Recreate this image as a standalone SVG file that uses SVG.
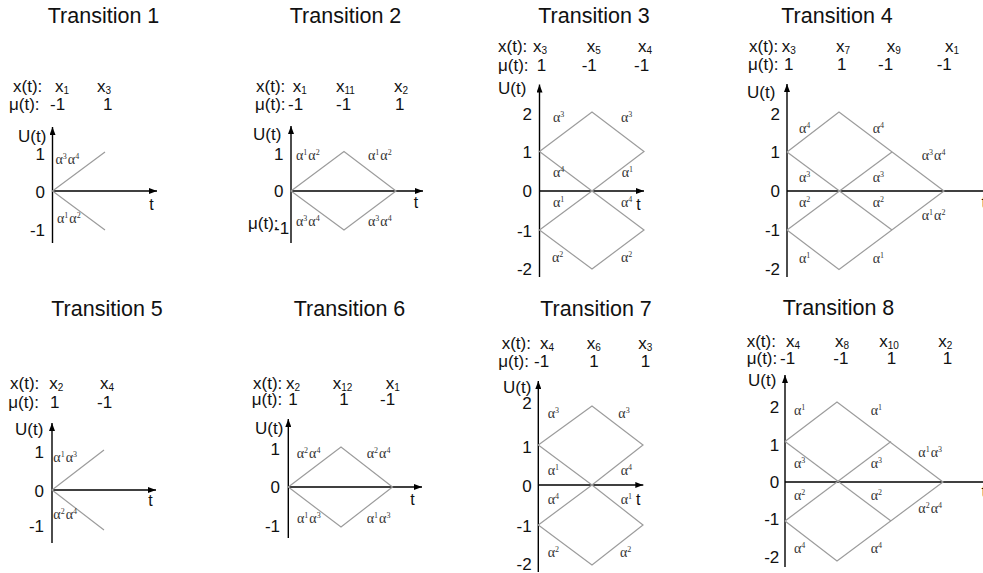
<svg xmlns="http://www.w3.org/2000/svg" width="983" height="573" viewBox="0 0 983 573">
<defs>
<marker id="ar" viewBox="0 0 8 6" refX="8" refY="3" markerWidth="8" markerHeight="6" markerUnits="userSpaceOnUse" orient="auto" preserveAspectRatio="none"><path d="M0,0 L8,3 L0,6 z" fill="#000"/></marker>
<style>
text{font-family:"Liberation Sans",Arial,sans-serif;fill:#111}
.ti{font-size:21.5px;text-anchor:middle}
.h{font-size:17px}
.s{font-size:10px}
.tk{font-size:17px;text-anchor:end}
.u{font-size:17px}
.t{font-size:16px;text-anchor:middle}
.al{font-family:"Liberation Serif","Times New Roman",serif;font-size:14px;fill:#333}
.sp{font-size:8px}
.ax2{stroke:#000;stroke-width:1.4;fill:none;marker-end:url(#ar)}
.g{stroke:#9c9c9c;stroke-width:1.2;fill:none}
</style>
</defs>
<rect width="983" height="573" fill="#fff"/>

<g id="p1">
<text class="ti" x="103.5" y="22.7">Transition 1</text>
<text class="h" x="13" y="91.5">x(t):</text>
<text class="h" x="55" y="91.5">x<tspan class="s" dy="2">1</tspan></text>
<text class="h" x="97" y="91.5">x<tspan class="s" dy="2">3</tspan></text>
<text class="h" x="9" y="110">μ(t):</text>
<text class="h" x="50" y="110">-1</text>
<text class="h" x="103" y="110">1</text>
<text class="u" x="18" y="141.5">U(t)</text>
<path class="ax2" d="M52.5,243 V127"/>
<path class="ax2" d="M52.5,191 H157"/>
<path class="g" d="M105,152 L52.5,191 L105,230"/>
<text class="tk" x="45" y="159.5">1</text>
<text class="tk" x="45" y="197.5">0</text>
<text class="tk" x="45" y="236">-1</text>
<text class="t" x="151.5" y="209.5">t</text>
<text class="al" x="55.5" y="164">α<tspan class="sp" dy="-5">3</tspan><tspan dy="5" dx="1">α</tspan><tspan class="sp" dy="-5">4</tspan></text>
<text class="al" x="57" y="223">α<tspan class="sp" dy="-5">1</tspan><tspan dy="5" dx="1">α</tspan><tspan class="sp" dy="-5">2</tspan></text>
</g>

<g id="p2">
<text class="ti" x="345.5" y="22.7">Transition 2</text>
<text class="h" x="256" y="91.5">x(t):</text>
<text class="h" x="292.7" y="91.5">x<tspan class="s" dy="2">1</tspan></text>
<text class="h" x="336" y="91.5">x<tspan class="s" dy="2">11</tspan></text>
<text class="h" x="394" y="91.5">x<tspan class="s" dy="2">2</tspan></text>
<text class="h" x="255" y="110">μ(t):</text>
<text class="h" x="288" y="110">-1</text>
<text class="h" x="336" y="110">-1</text>
<text class="h" x="395" y="110">1</text>
<text class="u" x="253" y="140">U(t)</text>
<path class="ax2" d="M291,243 V126"/>
<path class="ax2" d="M291,191 H423"/>
<path class="g" d="M291,191 L344,151.5 L396,191 L344,230 Z"/>
<text class="tk" x="283.5" y="160">1</text>
<text class="tk" x="283.5" y="197">0</text>
<text class="h" x="248" y="229">μ(t):</text>
<text class="h" x="274" y="234">-1</text>
<text class="t" x="416" y="208">t</text>
<text class="al" x="296" y="160">α<tspan class="sp" dy="-5">1</tspan><tspan dy="5" dx="1">α</tspan><tspan class="sp" dy="-5">2</tspan></text>
<text class="al" x="368" y="160">α<tspan class="sp" dy="-5">1</tspan><tspan dy="5" dx="1">α</tspan><tspan class="sp" dy="-5">2</tspan></text>
<text class="al" x="296" y="226">α<tspan class="sp" dy="-5">3</tspan><tspan dy="5" dx="1">α</tspan><tspan class="sp" dy="-5">4</tspan></text>
<text class="al" x="368" y="226">α<tspan class="sp" dy="-5">3</tspan><tspan dy="5" dx="1">α</tspan><tspan class="sp" dy="-5">4</tspan></text>
</g>

<g id="p3">
<text class="ti" x="594" y="22.7">Transition 3</text>
<text class="h" x="498" y="52.3">x(t):</text>
<text class="h" x="533" y="52.3">x<tspan class="s" dy="2">3</tspan></text>
<text class="h" x="586.7" y="52.3">x<tspan class="s" dy="2">5</tspan></text>
<text class="h" x="638" y="52.3">x<tspan class="s" dy="2">4</tspan></text>
<text class="h" x="498" y="71">μ(t):</text>
<text class="h" x="536.7" y="71">1</text>
<text class="h" x="581.7" y="71">-1</text>
<text class="h" x="634" y="71">-1</text>
<text class="u" x="498" y="93.5">U(t)</text>
<path class="ax2" d="M539.5,277 V84.5"/>
<path class="ax2" d="M539.5,191 H644"/>
<path class="g" d="M539.5,151.5 L592,112 L644,151.5 L592,191 Z"/>
<path class="g" d="M539.5,230 L592,191 L644,230 L592,269 Z"/>
<text class="tk" x="532" y="120">2</text>
<text class="tk" x="532" y="158">1</text>
<text class="tk" x="532" y="197">0</text>
<text class="tk" x="532" y="236.5">-1</text>
<text class="tk" x="532" y="275">-2</text>
<text class="al" x="553" y="121.5">α<tspan class="sp" dy="-5">3</tspan></text>
<text class="al" x="621" y="121.5">α<tspan class="sp" dy="-5">3</tspan></text>
<text class="al" x="553" y="176.5">α<tspan class="sp" dy="-5">4</tspan></text>
<text class="al" x="621.7" y="176.5">α<tspan class="sp" dy="-5">1</tspan></text>
<text class="al" x="553" y="206.5">α<tspan class="sp" dy="-5">1</tspan></text>
<text class="al" x="621" y="206.5">α<tspan class="sp" dy="-5">4</tspan></text>
<text class="t" x="638.5" y="210">t</text>
<text class="al" x="552" y="261.5">α<tspan class="sp" dy="-5">2</tspan></text>
<text class="al" x="621" y="261.5">α<tspan class="sp" dy="-5">2</tspan></text>
</g>

<g id="p4">
<text class="ti" x="837" y="22.7">Transition 4</text>
<text class="h" x="749" y="51.5">x(t):</text>
<text class="h" x="781.7" y="51.5">x<tspan class="s" dy="2">3</tspan></text>
<text class="h" x="836" y="51.5">x<tspan class="s" dy="2">7</tspan></text>
<text class="h" x="886.7" y="51.5">x<tspan class="s" dy="2">9</tspan></text>
<text class="h" x="945" y="51.5">x<tspan class="s" dy="2">1</tspan></text>
<text class="h" x="748" y="70">μ(t):</text>
<text class="h" x="784" y="70">1</text>
<text class="h" x="837" y="70">1</text>
<text class="h" x="878" y="70">-1</text>
<text class="h" x="936.7" y="70">-1</text>
<text class="u" x="747" y="98">U(t)</text>
<path class="ax2" d="M787,277 V84"/>
<path class="ax2" d="M787,191 H995"/>
<path class="g" d="M787,152 L839,112 L944,191 L839,269.5 L787,230"/>
<path class="g" d="M787,152 L892,230"/>
<path class="g" d="M787,230 L892,152"/>
<text class="tk" x="780" y="120">2</text>
<text class="tk" x="780" y="158">1</text>
<text class="tk" x="780" y="197">0</text>
<text class="tk" x="780" y="236">-1</text>
<text class="tk" x="780" y="275">-2</text>
<text class="al" x="799" y="133">α<tspan class="sp" dy="-5">4</tspan></text>
<text class="al" x="872.7" y="133">α<tspan class="sp" dy="-5">4</tspan></text>
<text class="al" x="799" y="181.7">α<tspan class="sp" dy="-5">3</tspan></text>
<text class="al" x="872.7" y="181.7">α<tspan class="sp" dy="-5">3</tspan></text>
<text class="al" x="921.7" y="160">α<tspan class="sp" dy="-5">3</tspan><tspan dy="5" dx="1">α</tspan><tspan class="sp" dy="-5">4</tspan></text>
<text class="al" x="799" y="206.7">α<tspan class="sp" dy="-5">2</tspan></text>
<text class="al" x="872.7" y="206.7">α<tspan class="sp" dy="-5">2</tspan></text>
<text class="al" x="921.7" y="220">α<tspan class="sp" dy="-5">1</tspan><tspan dy="5" dx="1">α</tspan><tspan class="sp" dy="-5">2</tspan></text>
<text class="al" x="799" y="263">α<tspan class="sp" dy="-5">1</tspan></text>
<text class="al" x="872.7" y="263">α<tspan class="sp" dy="-5">1</tspan></text>
<text class="h" x="981.5" y="208">t</text>
</g>

<g id="p5">
<text class="ti" x="107" y="316">Transition 5</text>
<text class="h" x="10" y="389">x(t):</text>
<text class="h" x="49.3" y="389">x<tspan class="s" dy="2">2</tspan></text>
<text class="h" x="100" y="389">x<tspan class="s" dy="2">4</tspan></text>
<text class="h" x="8.3" y="408">μ(t):</text>
<text class="h" x="50" y="408">1</text>
<text class="h" x="97" y="408">-1</text>
<text class="u" x="15" y="435">U(t)</text>
<path class="ax2" d="M52,543 V423"/>
<path class="ax2" d="M52,490 H156"/>
<path class="g" d="M104,450 L52,490 L104,530"/>
<text class="tk" x="44" y="458">1</text>
<text class="tk" x="44" y="496.5">0</text>
<text class="tk" x="44" y="532">-1</text>
<text class="t" x="150.5" y="506">t</text>
<text class="al" x="53.3" y="461.7">α<tspan class="sp" dy="-5">1</tspan><tspan dy="5" dx="1">α</tspan><tspan class="sp" dy="-5">3</tspan></text>
<text class="al" x="53.3" y="519">α<tspan class="sp" dy="-5">2</tspan><tspan dy="5" dx="1">α</tspan><tspan class="sp" dy="-5">4</tspan></text>
</g>

<g id="p6">
<text class="ti" x="349.5" y="316">Transition 6</text>
<text class="h" x="253" y="388.5">x(t):</text>
<text class="h" x="286" y="388.5">x<tspan class="s" dy="2">2</tspan></text>
<text class="h" x="332.7" y="388.5">x<tspan class="s" dy="2">12</tspan></text>
<text class="h" x="385.7" y="388.5">x<tspan class="s" dy="2">1</tspan></text>
<text class="h" x="251.7" y="405">μ(t):</text>
<text class="h" x="288.3" y="405">1</text>
<text class="h" x="339.3" y="405">1</text>
<text class="h" x="380" y="405">-1</text>
<text class="u" x="255" y="433.5">U(t)</text>
<path class="ax2" d="M288.3,538 V419"/>
<path class="ax2" d="M288.3,487 H422"/>
<path class="g" d="M288.3,487 L341,447 L392.5,487 L341,527 Z"/>
<text class="tk" x="280" y="455">1</text>
<text class="tk" x="280" y="493">0</text>
<text class="tk" x="280" y="531.5">-1</text>
<text class="t" x="412.5" y="505">t</text>
<text class="al" x="296.7" y="458">α<tspan class="sp" dy="-5">2</tspan><tspan dy="5" dx="1">α</tspan><tspan class="sp" dy="-5">4</tspan></text>
<text class="al" x="366.7" y="458">α<tspan class="sp" dy="-5">2</tspan><tspan dy="5" dx="1">α</tspan><tspan class="sp" dy="-5">4</tspan></text>
<text class="al" x="297" y="523">α<tspan class="sp" dy="-5">1</tspan><tspan dy="5" dx="1">α</tspan><tspan class="sp" dy="-5">3</tspan></text>
<text class="al" x="366.7" y="523">α<tspan class="sp" dy="-5">1</tspan><tspan dy="5" dx="1">α</tspan><tspan class="sp" dy="-5">3</tspan></text>
</g>

<g id="p7">
<text class="ti" x="596" y="316">Transition 7</text>
<text class="h" x="501.7" y="349">x(t):</text>
<text class="h" x="540" y="349">x<tspan class="s" dy="2">4</tspan></text>
<text class="h" x="586.7" y="349">x<tspan class="s" dy="2">6</tspan></text>
<text class="h" x="638.3" y="349">x<tspan class="s" dy="2">3</tspan></text>
<text class="h" x="498.3" y="367">μ(t):</text>
<text class="h" x="534" y="367">-1</text>
<text class="h" x="589.3" y="367">1</text>
<text class="h" x="640.7" y="367">1</text>
<text class="u" x="503" y="392.5">U(t)</text>
<path class="ax2" d="M538.3,572 V381"/>
<path class="ax2" d="M538.3,485 H643.3"/>
<path class="g" d="M538.3,445 L592,406 L643,445 L592,485 Z"/>
<path class="g" d="M538.3,525 L592,485 L643,525 L592,565 Z"/>
<text class="tk" x="531.7" y="409">2</text>
<text class="tk" x="531.7" y="453">1</text>
<text class="tk" x="531.7" y="491.7">0</text>
<text class="tk" x="531.7" y="531.7">-1</text>
<text class="tk" x="531.7" y="570">-2</text>
<text class="al" x="547.7" y="418">α<tspan class="sp" dy="-5">3</tspan></text>
<text class="al" x="618.3" y="418">α<tspan class="sp" dy="-5">3</tspan></text>
<text class="al" x="547.7" y="475">α<tspan class="sp" dy="-5">1</tspan></text>
<text class="al" x="620.7" y="475">α<tspan class="sp" dy="-5">4</tspan></text>
<text class="al" x="547.7" y="504">α<tspan class="sp" dy="-5">4</tspan></text>
<text class="al" x="620.7" y="504">α<tspan class="sp" dy="-5">1</tspan></text>
<text class="t" x="638.2" y="505">t</text>
<text class="al" x="547.7" y="556.7">α<tspan class="sp" dy="-5">2</tspan></text>
<text class="al" x="620" y="556.7">α<tspan class="sp" dy="-5">2</tspan></text>
</g>

<g id="p8">
<text class="ti" x="838.5" y="315">Transition 8</text>
<text class="h" x="746.7" y="346.5">x(t):</text>
<text class="h" x="786" y="346.5">x<tspan class="s" dy="2">4</tspan></text>
<text class="h" x="835" y="346.5">x<tspan class="s" dy="2">8</tspan></text>
<text class="h" x="879.3" y="346.5">x<tspan class="s" dy="2">10</tspan></text>
<text class="h" x="938.3" y="346.5">x<tspan class="s" dy="2">2</tspan></text>
<text class="h" x="746.7" y="364">μ(t):</text>
<text class="h" x="780" y="364">-1</text>
<text class="h" x="833.3" y="364">-1</text>
<text class="h" x="886.7" y="364">1</text>
<text class="h" x="942.7" y="364">1</text>
<text class="u" x="748" y="386">U(t)</text>
<path class="ax2" d="M785,567 V375"/>
<path class="ax2" d="M785,482 H995"/>
<path class="g" d="M785,441.5 L837,402 L943,482 L837,561 L785,521"/>
<path class="g" d="M785,441.5 L891,521"/>
<path class="g" d="M785,521 L891,441.5"/>
<text class="tk" x="779.3" y="413">2</text>
<text class="tk" x="779.3" y="450.7">1</text>
<text class="tk" x="779.3" y="488.3">0</text>
<text class="tk" x="779.3" y="525">-1</text>
<text class="tk" x="779.3" y="563.3">-2</text>
<text class="al" x="794" y="415">α<tspan class="sp" dy="-5">1</tspan></text>
<text class="al" x="870.7" y="415">α<tspan class="sp" dy="-5">1</tspan></text>
<text class="al" x="918.3" y="456.7">α<tspan class="sp" dy="-5">1</tspan><tspan dy="5" dx="1">α</tspan><tspan class="sp" dy="-5">3</tspan></text>
<text class="al" x="794" y="468.3">α<tspan class="sp" dy="-5">3</tspan></text>
<text class="al" x="870.7" y="468.3">α<tspan class="sp" dy="-5">3</tspan></text>
<text class="al" x="794" y="500">α<tspan class="sp" dy="-5">2</tspan></text>
<text class="al" x="870.7" y="500">α<tspan class="sp" dy="-5">2</tspan></text>
<text class="al" x="918.3" y="513">α<tspan class="sp" dy="-5">2</tspan><tspan dy="5" dx="1">α</tspan><tspan class="sp" dy="-5">4</tspan></text>
<text class="al" x="794" y="553.3">α<tspan class="sp" dy="-5">4</tspan></text>
<text class="al" x="870.7" y="553.3">α<tspan class="sp" dy="-5">4</tspan></text>
<text class="h" x="981.5" y="497">t</text>
</g>
</svg>
